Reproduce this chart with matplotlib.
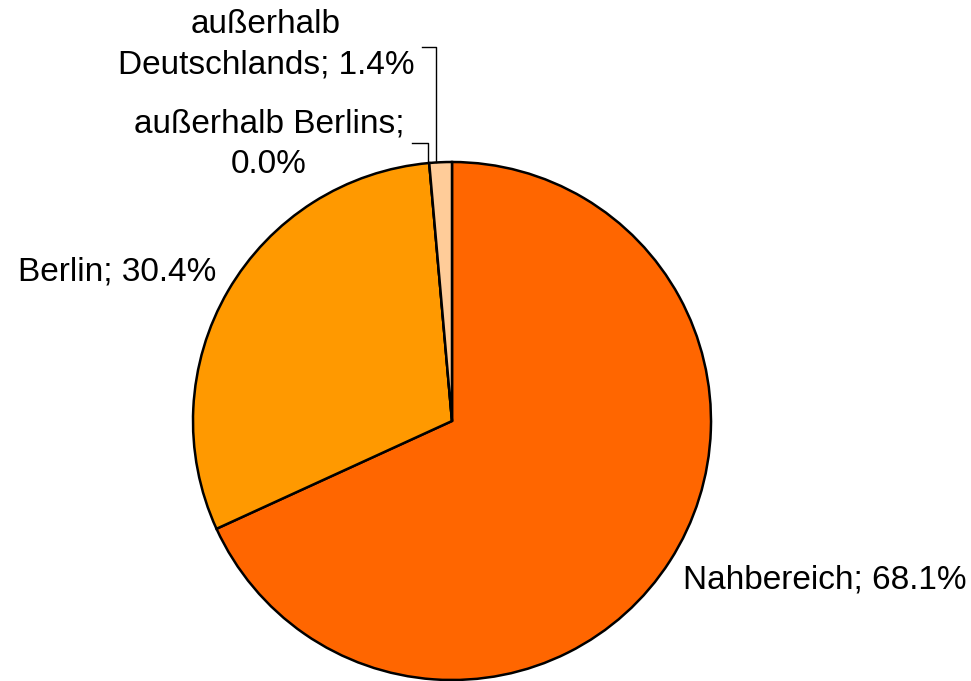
import numpy as np
import matplotlib.pyplot as plt

# Daten
kategorien = ['Nahbereich', 'Berlin', 'außerhalb Berlins', 'außerhalb\nDeutschlands']
anteile = [68.1, 30.4, 0.0, 1.4]
farben = ['#FF6600', '#FF9900', '#FFFFFF', '#FFCC99']

plt.rcParams['font.family'] = ['Liberation Sans', 'DejaVu Sans']

H = 681  # Bildhöhe in Pixeln, Koordinaten von oben gemessen
def py(y):
    return H - y

fig = plt.figure(figsize=(9.71, 6.81), dpi=100)
ax = fig.add_axes([0, 0, 1, 1])

mitte = (452, py(421))
radius = 259
keile, _ = ax.pie(anteile, colors=farben, startangle=90, counterclock=False,
                  center=mitte, radius=radius, frame=True,
                  wedgeprops=dict(edgecolor='black', linewidth=1.8))
ax.set_xlim(0, 971)
ax.set_ylim(0, H)
ax.set_aspect('equal')
ax.axis('off')

# Mittelwinkel der Keile (Uhrzeigersinn ab oben)
grenzen = np.concatenate([[0], np.cumsum(anteile)]) / 100 * 360
mittel = 90 - (grenzen[:-1] + grenzen[1:]) / 2
def randpunkt(i):
    w = np.radians(mittel[i])
    return mitte[0] + radius * np.cos(w), mitte[1] + radius * np.sin(w)

fs = 24
ax.text(683, py(580), f'{kategorien[0]}; {anteile[0]:.1f}%', fontsize=fs, ha='left', va='center')
ax.text(18, py(272), f'{kategorien[1]}; {anteile[1]:.1f}%', fontsize=fs, ha='left', va='center')
ax.text(269, py(144), f'{kategorien[2]};\n{anteile[2]:.1f}%', fontsize=fs, ha='center', va='center',
        linespacing=1.4)
ax.text(266, py(45), f'{kategorien[3]}; {anteile[3]:.1f}%', fontsize=fs, ha='center', va='center',
        linespacing=1.4)

# Führungslinien
x, y = randpunkt(2)
ax.plot([412, x, x], [py(143), py(143), y], color='black', linewidth=1)
x, y = randpunkt(3)
ax.plot([422, x - 3, x - 3], [py(47), py(47), y], color='black', linewidth=1)

fig.savefig('out.png', dpi=100)
